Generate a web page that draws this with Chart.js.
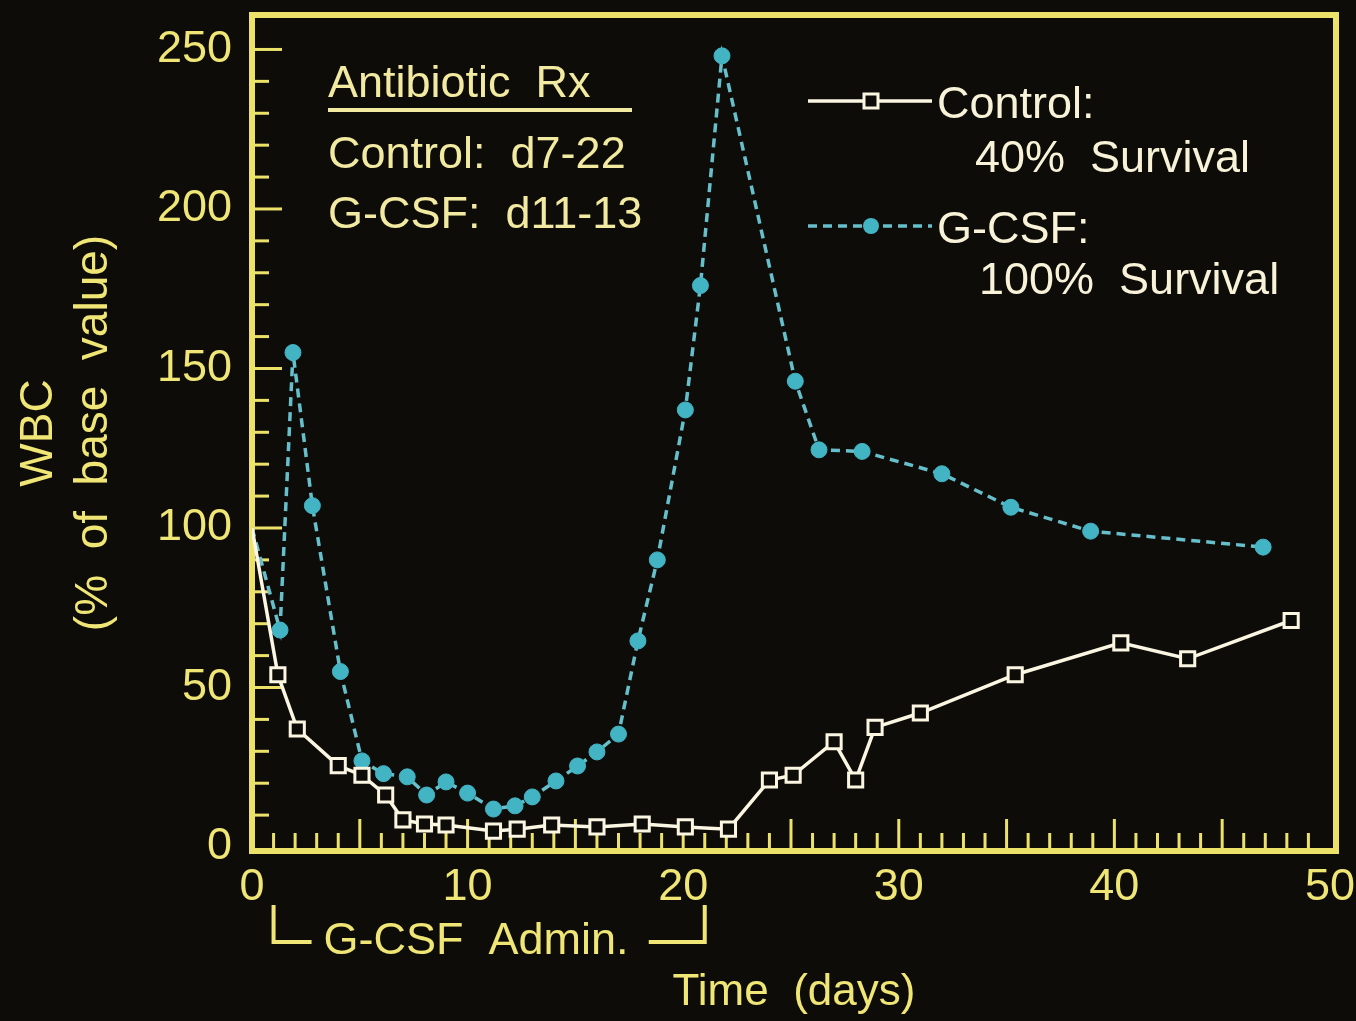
<!DOCTYPE html>
<html>
<head>
<meta charset="utf-8">
<script src="https://cdn.jsdelivr.net/npm/chart.js@4/dist/chart.umd.min.js"></script>
<style>
  html, body { margin: 0; padding: 0; background: #0e0c09; }
  canvas { display: block; }
</style>
</head>
<body>
<canvas id="wbc" width="1356" height="1021"></canvas>
<script>
// values (day, WBC % of base)
const controlDays = [0, 1.2, 2.1, 4, 5.1, 6.2, 7, 8, 9, 11.2, 12.3, 13.9, 16, 18.1, 20.1, 22.1, 24, 25.1, 27, 28, 28.9, 31, 35.4, 40.3, 43.4, 48.2];
const controlWbc  = [100, 54, 37, 25.5, 22.5, 16.3, 8.5, 7.2, 6.9, 5, 5.6, 6.9, 6.3, 7.2, 6.3, 5.6, 21, 22.5, 33, 21, 37.5, 42, 54, 64, 59, 71];
const gcsfDays = [0, 1.3, 1.9, 2.8, 4.1, 5.1, 6.1, 7.2, 8.1, 9, 10, 11.2, 12.2, 13, 14.1, 15.1, 16, 17, 17.9, 18.8, 20.1, 20.8, 21.8, 25.2, 26.3, 28.3, 32, 35.2, 38.9, 46.9];
const gcsfWbc  = [100, 68, 155, 107, 55, 27, 23, 22, 16.3, 20.4, 16.9, 11.9, 12.9, 15.7, 20.7, 25.4, 29.8, 35.4, 64.6, 90, 137, 176, 248, 146, 124.5, 124, 117, 106.5, 99, 94];
const xTickLabels = [0, 10, 20, 30, 40, 50];
const yTickLabels = [0, 50, 100, 150, 200, 250];
const adminDays = [1, 21];

const FONT = '"Liberation Sans", Arial, sans-serif';
const YELLOW = '#f0e676';
const FRAME = '#ece26a';
const CREAM = '#f8f3d8';
const WHITE = '#fbf6e2';
const CYAN = '#42b4c4';
const CYAN_LINE = '#66bfca';
const BG = '#0e0c09';

Chart.defaults.font.family = FONT;

const background = {
  id: 'background',
  beforeDraw(chart) {
    const ctx = chart.ctx;
    ctx.save();
    ctx.fillStyle = BG;
    ctx.fillRect(0, 0, chart.width, chart.height);
    ctx.restore();
  }
};

// frame round the plot and inward tick marks
const frameTicks = {
  id: 'frameTicks',
  beforeDatasetsDraw(chart) {
    const {ctx, chartArea: a, scales: {x, y}} = chart;
    ctx.save();
    ctx.strokeStyle = FRAME;
    ctx.lineWidth = 3;
    for (let d = 1; d < 50; d++) {
      const px = x.getPixelForValue(d);
      const len = d % 5 === 0 ? 32 : 18;
      ctx.beginPath();
      ctx.moveTo(px, a.bottom);
      ctx.lineTo(px, a.bottom - len);
      ctx.stroke();
    }
    for (let v = 10; v <= 250; v += 10) {
      const py = y.getPixelForValue(v);
      const len = v % 50 === 0 ? 30 : 17;
      ctx.beginPath();
      ctx.moveTo(a.left, py);
      ctx.lineTo(a.left + len, py);
      ctx.stroke();
    }
    ctx.lineWidth = 6;
    ctx.strokeRect(a.left, a.top, a.right - a.left, a.bottom - a.top);
    ctx.restore();
  }
};

const notes = {
  id: 'notes',
  afterDraw(chart) {
    const {ctx, scales: {x}} = chart;
    ctx.save();
    ctx.font = '45px ' + FONT;
    ctx.textAlign = 'left';
    ctx.textBaseline = 'alphabetic';

    // antibiotic box
    ctx.fillStyle = '#f2eaa0';
    ctx.fillText('Antibiotic  Rx', 328, 97);
    ctx.fillRect(328, 108, 304, 4);
    ctx.fillText('Control:  d7-22', 328, 168);
    ctx.fillText('G-CSF:  d11-13', 328, 228);

    // legend
    ctx.strokeStyle = WHITE;
    ctx.lineWidth = 3.5;
    ctx.beginPath(); ctx.moveTo(808, 101); ctx.lineTo(932, 101); ctx.stroke();
    ctx.fillStyle = BG;
    ctx.lineWidth = 3;
    ctx.fillRect(864, 94, 14, 14);
    ctx.strokeRect(864, 94, 14, 14);
    ctx.strokeStyle = CYAN_LINE;
    ctx.lineWidth = 3.5;
    ctx.setLineDash([9, 6]);
    ctx.beginPath(); ctx.moveTo(808, 226); ctx.lineTo(932, 226); ctx.stroke();
    ctx.setLineDash([]);
    ctx.fillStyle = CYAN;
    ctx.beginPath(); ctx.arc(871, 226, 8, 0, Math.PI * 2); ctx.fill();

    ctx.fillStyle = CREAM;
    ctx.fillText('Control:', 937, 118);
    ctx.fillText('40%  Survival', 975, 172);
    ctx.fillText('G-CSF:', 937, 243);
    ctx.fillText('100%  Survival', 979, 294);

    // G-CSF administration bracket
    const x1 = x.getPixelForValue(adminDays[0]);
    const x2 = x.getPixelForValue(adminDays[1]);
    ctx.strokeStyle = YELLOW;
    ctx.lineWidth = 4;
    ctx.beginPath();
    ctx.moveTo(x1, 905); ctx.lineTo(x1, 942); ctx.lineTo(x1 + 38, 942);
    ctx.stroke();
    ctx.beginPath();
    ctx.moveTo(x2 - 56, 942); ctx.lineTo(x2, 942); ctx.lineTo(x2, 905);
    ctx.stroke();
    ctx.fillStyle = YELLOW;
    ctx.textBaseline = 'middle';
    ctx.fillText('G-CSF  Admin.', x1 + 50, 942);
    ctx.restore();
  }
};

const toPoints = (days, vals) => days.map((d, i) => ({x: d, y: vals[i]}));

new Chart(document.getElementById('wbc'), {
  type: 'line',
  data: {
    datasets: [
      {
        label: 'Control',
        data: toPoints(controlDays, controlWbc),
        borderColor: WHITE,
        borderWidth: 3.5,
        pointStyle: 'rect',
        pointRadius: ctx => ctx.dataIndex === 0 ? 0 : 10,
        pointBackgroundColor: BG,
        pointBorderColor: WHITE,
        pointBorderWidth: 3,
        tension: 0
      },
      {
        label: 'G-CSF',
        data: toPoints(gcsfDays, gcsfWbc),
        borderColor: CYAN_LINE,
        borderWidth: 3.5,
        borderDash: [9, 6],
        pointStyle: 'circle',
        pointRadius: ctx => ctx.dataIndex === 0 ? 0 : 8,
        pointBackgroundColor: CYAN,
        pointBorderColor: CYAN,
        pointBorderWidth: 1,
        tension: 0
      }
    ]
  },
  options: {
    responsive: false,
    animation: false,
    devicePixelRatio: 1,
    layout: { padding: { left: 0, top: 15, right: 20, bottom: 0 } },
    plugins: {
      legend: { display: false },
      tooltip: { enabled: false }
    },
    scales: {
      x: {
        type: 'linear',
        min: 0,
        max: 50.28,
        afterBuildTicks: s => { s.ticks = xTickLabels.map(v => ({value: v})); },
        afterFit: s => { s.height = 170; s.paddingLeft = 0; s.paddingRight = 0; },
        grid: { display: false, drawTicks: false },
        border: { display: false },
        ticks: { color: YELLOW, font: { size: 45 }, padding: 10, maxRotation: 0, autoSkip: false },
        title: { display: true, text: 'Time  (days)', color: YELLOW, font: { size: 44 }, padding: { top: 0, bottom: 2 } }
      },
      y: {
        type: 'linear',
        min: -1.25,
        max: 260.8,
        afterBuildTicks: s => { s.ticks = yTickLabels.map(v => ({value: v})); },
        afterFit: s => { s.width = 252; s.paddingTop = 0; s.paddingBottom = 0; },
        grid: { display: false, drawTicks: false },
        border: { display: false },
        ticks: { color: YELLOW, font: { size: 45 }, padding: 20, autoSkip: false },
        title: { display: true, text: ['WBC', '(%  of  base  value)'], color: YELLOW, font: { size: 46, lineHeight: 1.2 }, padding: { top: 12, bottom: 0 } }
      }
    }
  },
  plugins: [background, frameTicks, notes]
});
</script>
</body>
</html>
